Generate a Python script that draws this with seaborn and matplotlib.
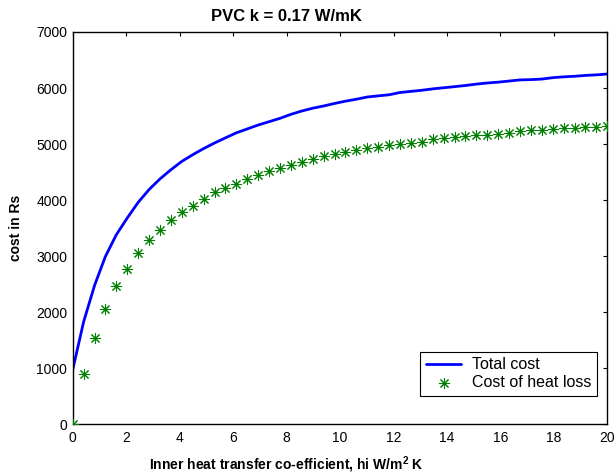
import matplotlib
matplotlib.use("Agg")
import matplotlib.pyplot as plt
import seaborn as sns

# data
hi = [0.0, 0.41, 0.82, 1.22, 1.63, 2.04, 2.45, 2.86, 3.27, 3.67,
      4.08, 4.49, 4.90, 5.31, 5.71, 6.12, 6.53, 6.94, 7.35, 7.76,
      8.16, 8.57, 8.98, 9.39, 9.80, 10.20, 10.61, 11.02, 11.43, 11.84,
      12.24, 12.65, 13.06, 13.47, 13.88, 14.29, 14.69, 15.10, 15.51, 15.92,
      16.33, 16.73, 17.14, 17.55, 17.96, 18.37, 18.78, 19.18, 19.59, 20.0]

total_cost = [970, 1830, 2480, 2990, 3380, 3680, 3960, 4190, 4380, 4540,
              4690, 4810, 4920, 5020, 5110, 5200, 5270, 5340, 5400, 5460,
              5530, 5590, 5640, 5680, 5725, 5765, 5800, 5840, 5860, 5880,
              5920, 5940, 5960, 5985, 6005, 6025, 6045, 6070, 6090, 6105,
              6125, 6145, 6150, 6160, 6185, 6200, 6210, 6225, 6235, 6250]

heat_loss_cost = [0, 893, 1546, 2054, 2470, 2773, 3048, 3280, 3470, 3648,
                  3786, 3898, 4023, 4136, 4214, 4295, 4380, 4446, 4511, 4577,
                  4630, 4678, 4737, 4779, 4820, 4850, 4886, 4921, 4945, 4975,
                  5000, 5015, 5041, 5082, 5107, 5130, 5143, 5161, 5166, 5179,
                  5196, 5225, 5250, 5250, 5268, 5286, 5286, 5304, 5304, 5314]

x_ticks = [0, 2, 4, 6, 8, 10, 12, 14, 16, 18, 20]
y_ticks = [0, 1000, 2000, 3000, 4000, 5000, 6000, 7000]

sns.set_style("white")
plt.rcParams["font.family"] = ["Liberation Sans", "DejaVu Sans"]
plt.rcParams["mathtext.fontset"] = "custom"
plt.rcParams["mathtext.rm"] = "Liberation Sans"
plt.rcParams["mathtext.bf"] = "Liberation Sans:bold"
plt.rcParams["text.color"] = "black"
plt.rcParams["axes.labelcolor"] = "black"

fig = plt.figure(figsize=(6.16, 4.74), dpi=100)
ax = fig.add_axes([0.118, 0.105, 0.868, 0.8275])

sns.lineplot(x=hi, y=total_cost, color="#0000ff", lw=2, label="Total cost", ax=ax)
sns.scatterplot(x=hi, y=heat_loss_cost, color="#008000", marker=(8, 2, 0),
                s=55, linewidth=0.75, label="Cost of heat loss", ax=ax, zorder=3)

ax.set_xlim(0, 20)
ax.set_ylim(0, 7000)
ax.set_xticks(x_ticks)
ax.set_yticks(y_ticks)
ax.tick_params(direction="in", top=True, right=True, length=3, width=0.8,
               labelsize=10, colors="black")
ax.tick_params(axis="x", pad=5)
ax.tick_params(axis="y", pad=4)
for s in ax.spines.values():
    s.set_color("black")
    s.set_linewidth(1.0)

ax.set_title("PVC k = 0.17 W/mK", fontsize=12, fontweight="bold", x=0.399, y=1.0, pad=8)
ax.set_xlabel(r"Inner heat transfer co-efficient, hi W/m$^\mathbf{2}$ K",
              fontsize=10, fontweight="bold")
ax.set_ylabel("cost in Rs", fontsize=10, fontweight="bold")
ax.xaxis.set_label_coords(0.399, -0.078)
ax.yaxis.set_label_coords(-0.092, 0.5)

leg = ax.legend(loc="lower right", bbox_to_anchor=(0.981, 0.072),
                borderaxespad=0, fancybox=False, framealpha=1,
                edgecolor="black", fontsize=11.5, handlelength=2.2,
                handletextpad=0.7, borderpad=0.35, labelspacing=0.2)
leg.get_frame().set_linewidth(0.8)

fig.savefig("out.png", dpi=100)
